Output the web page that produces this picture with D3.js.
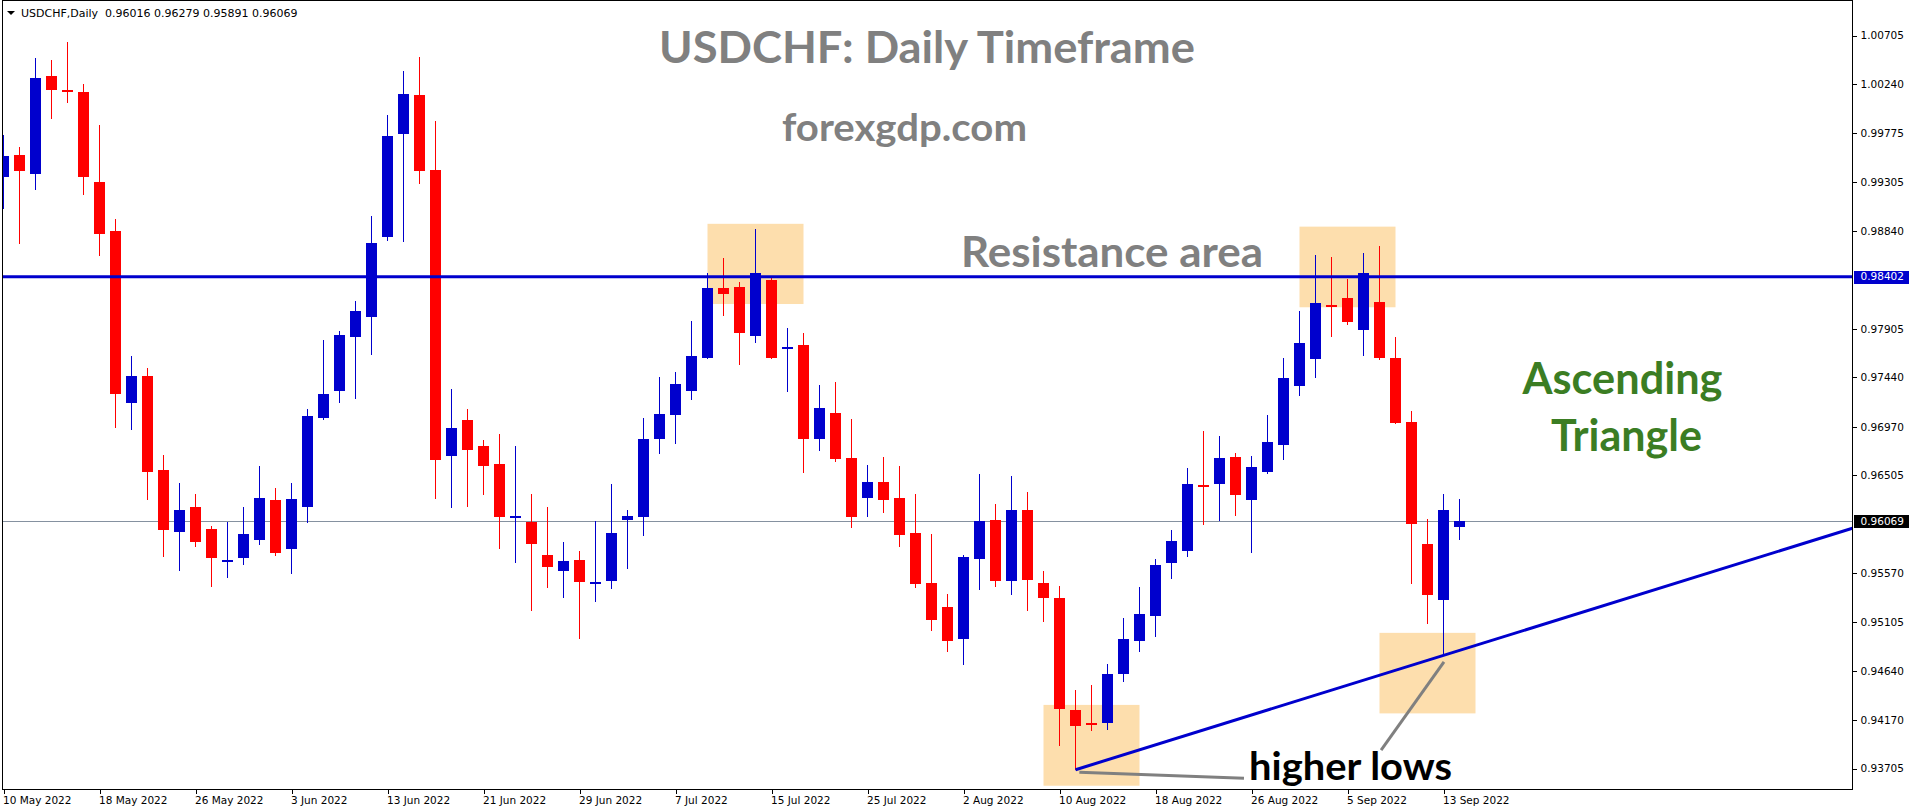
<!DOCTYPE html>
<html><head><meta charset="utf-8">
<script src="https://cdn.jsdelivr.net/npm/d3@7"></script>
<style>body{margin:0;background:#fff;overflow:hidden}svg{display:block}</style>
</head><body><svg id="c" width="1916" height="812"></svg>
<script>
// ---- data ----
const dates = [
 "2022-05-10","2022-05-11","2022-05-12","2022-05-13","2022-05-16","2022-05-17","2022-05-18","2022-05-19","2022-05-20","2022-05-23","2022-05-24","2022-05-25","2022-05-26","2022-05-27","2022-05-30","2022-05-31",
 "2022-06-01","2022-06-02","2022-06-03","2022-06-06","2022-06-07","2022-06-08","2022-06-09","2022-06-10","2022-06-13","2022-06-14","2022-06-15","2022-06-16","2022-06-17","2022-06-20","2022-06-21","2022-06-22","2022-06-23","2022-06-24","2022-06-27","2022-06-28","2022-06-29","2022-06-30",
 "2022-07-01","2022-07-04","2022-07-05","2022-07-06","2022-07-07","2022-07-08","2022-07-11","2022-07-12","2022-07-13","2022-07-14","2022-07-15","2022-07-18","2022-07-19","2022-07-20","2022-07-21","2022-07-22","2022-07-25","2022-07-26","2022-07-27","2022-07-28","2022-07-29",
 "2022-08-01","2022-08-02","2022-08-03","2022-08-04","2022-08-05","2022-08-08","2022-08-09","2022-08-10","2022-08-11","2022-08-12","2022-08-15","2022-08-16","2022-08-17","2022-08-18","2022-08-19","2022-08-22","2022-08-23","2022-08-24","2022-08-25","2022-08-26","2022-08-29","2022-08-30","2022-08-31",
 "2022-09-01","2022-09-02","2022-09-05","2022-09-06","2022-09-07","2022-09-08","2022-09-09","2022-09-12","2022-09-13","2022-09-14"];

const open = [0.99357,0.99565,0.99386,1.00316,1.00180,1.00166,0.99306,0.98839,0.97195,0.97458,
 0.96554,0.95967,0.96200,0.95992,0.95688,0.95712,0.95883,0.96269,0.95806,0.96204,
 0.97053,0.97312,0.97826,0.98016,0.98777,0.99769,1.00137,0.99423,0.96692,0.97031,
 0.96783,0.96614,0.96110,0.96061,0.95749,0.95591,0.95698,0.95480,0.95493,0.96077,
 0.96105,0.96855,0.97084,0.97312,0.97628,0.98291,0.98299,0.97837,0.98366,0.97720,
 0.97747,0.96855,0.97099,0.96673,0.96286,0.96438,0.96291,0.95952,0.95477,0.95247,
 0.94946,0.95707,0.96077,0.95500,0.96171,0.95477,0.95334,0.94267,0.94145,0.94143,
 0.94610,0.94919,0.95164,0.95669,0.95786,0.96415,0.96423,0.96676,0.96272,0.96536,
 0.96796,0.97358,0.97614,0.98130,0.98195,0.97892,0.98165,0.97629,0.97013,0.95850,
 0.95311,0.96016];
const high = [0.99751,0.99641,1.00487,1.00469,1.00640,1.00239,0.99849,0.98956,0.97640,0.97527,
 0.96696,0.96430,0.96324,0.96022,0.96058,0.96200,0.96594,0.96382,0.96430,0.97137,
 0.97793,0.97888,0.98172,0.98985,0.99944,1.00363,1.00498,0.99889,0.97327,0.97137,
 0.96843,0.96898,0.96783,0.96330,0.96203,0.95872,0.95785,0.96065,0.96424,0.96176,
 0.97052,0.97443,0.97490,0.97976,0.98434,0.98584,0.98347,0.98860,0.98390,0.97909,
 0.97869,0.97368,0.97395,0.97044,0.96606,0.96676,0.96593,0.96325,0.95945,0.95372,
 0.95745,0.96514,0.96227,0.96495,0.96344,0.95590,0.95447,0.94456,0.94505,0.94705,
 0.95142,0.95440,0.95711,0.95982,0.96578,0.96925,0.96876,0.96717,0.96687,0.97079,
 0.97622,0.98070,0.98613,0.98594,0.98376,0.98624,0.98697,0.97822,0.97115,0.96087,
 0.96324,0.96279];
const low = [0.99044,0.98712,0.99233,0.99911,1.00064,0.99178,0.98595,0.96955,0.96937,0.96273,
 0.95730,0.95588,0.95825,0.95442,0.95529,0.95653,0.95836,0.95737,0.95559,0.96054,
 0.97035,0.97195,0.97235,0.97655,0.98741,0.98730,0.99291,0.96280,0.96197,0.96204,
 0.96314,0.95801,0.95666,0.95208,0.95429,0.95331,0.94940,0.95295,0.95418,0.95607,
 0.95923,0.96712,0.96807,0.97226,0.97620,0.98031,0.97561,0.97766,0.97620,0.97305,
 0.96531,0.96740,0.96637,0.95998,0.96112,0.96144,0.95824,0.95432,0.95014,0.94814,
 0.94690,0.95413,0.95436,0.95364,0.95213,0.95100,0.93924,0.93694,0.94060,0.94071,
 0.94531,0.94821,0.94961,0.95519,0.95730,0.96028,0.96069,0.96118,0.95767,0.96517,
 0.96653,0.97264,0.97433,0.97825,0.97938,0.97644,0.97607,0.97000,0.95464,0.95081,
 0.94786,0.95891];
const close = [0.99550,0.99408,1.00298,1.00188,1.00165,0.99350,0.98807,0.97283,0.97451,0.96539,
 0.95981,0.96175,0.95872,0.95712,0.95698,0.95945,0.96288,0.95759,0.96277,0.97068,
 0.97279,0.97841,0.98070,0.98726,0.99747,1.00144,0.99408,0.96652,0.96955,0.96747,
 0.96598,0.96105,0.96120,0.95848,0.95627,0.95690,0.95485,0.95490,0.95958,0.96120,
 0.96851,0.97091,0.97376,0.97644,0.98291,0.98236,0.97865,0.98434,0.97628,0.97735,
 0.96855,0.97147,0.96657,0.96105,0.96444,0.96272,0.95937,0.95470,0.95119,0.94927,
 0.95726,0.96069,0.95500,0.96171,0.95507,0.95338,0.94271,0.94113,0.94130,0.94610,
 0.94942,0.95179,0.95647,0.95877,0.96419,0.96400,0.96668,0.96314,0.96582,0.96823,
 0.97430,0.97765,0.98153,0.98115,0.97972,0.98442,0.97622,0.97006,0.96043,0.95365,
 0.96175,0.96069];

const dateTickLabels = ["10 May 2022","18 May 2022","26 May 2022","3 Jun 2022","13 Jun 2022","21 Jun 2022",
 "29 Jun 2022","7 Jul 2022","15 Jul 2022","25 Jul 2022","2 Aug 2022","10 Aug 2022","18 Aug 2022",
 "26 Aug 2022","5 Sep 2022","13 Sep 2022"];
const priceTicks = [1.00705,1.00240,0.99775,0.99305,0.98840,0.97905,0.97440,0.96970,0.96505,
 0.95570,0.95105,0.94640,0.94170,0.93705];
const resistanceLevel = 0.98402;
const trendAnchors = [67, 90];           // bars whose lows define the rising trendline
const boxes = [ // [bar from, bar to, price top, price bottom]
 [44, 50, 0.98907, 0.98141],
 [81, 87, 0.98880, 0.98110],
 [86, 92, 0.95001, 0.94232],
 [65, 71, 0.94313, 0.93541]];
const pointers = [ // grey annotation lines [bar, price] -> [bar, price]
 [[67.24, 0.93669], [77.53, 0.93612]],
 [[90.03, 0.94723], [86.1, 0.93882]]];

// ---- layout ----
const W = 1916, H = 812;
const L = 2.5, R = 1852.5, T = 0.5, B = 789.5;
const svg = d3.select("#c");
svg.append("rect").attr("width", W).attr("height", H).attr("fill", "#fff");

const x = d3.scaleLinear().domain([0, 91]).range([3.5, 3.5 + 16 * 91]);
const y = d3.scaleLinear().domain([0.93510, 1.01025]).range([789, 2]);
const parse = d3.timeParse("%Y-%m-%d"), fmt = d3.timeFormat("%-d %b %Y");
const bars = dates.map((d, i) => ({i, label: fmt(parse(d)), o: open[i], h: high[i], l: low[i], c: close[i]}));

svg.append("defs").append("clipPath").attr("id", "clip")
  .append("rect").attr("x", L + 0.5).attr("y", T + 0.5).attr("width", R - L - 1).attr("height", B - T - 1);
const plot = svg.append("g").attr("clip-path", "url(#clip)");

// annotation boxes (background)
plot.append("g").selectAll("rect").data(boxes).join("rect")
  .attr("x", d => x(d[0])).attr("width", d => x(d[1]) - x(d[0]))
  .attr("y", d => y(d[2])).attr("height", d => y(d[3]) - y(d[2]))
  .attr("fill", "#FDDEAD");

// bid line
const bid = close[close.length - 1];
plot.append("line").attr("x1", L).attr("x2", R)
  .attr("y1", Math.round(y(bid)) + 0.5).attr("y2", Math.round(y(bid)) + 0.5)
  .attr("stroke", "#8591a0").attr("stroke-width", 1);

// candles
const UP = "#0000CD", DN = "#FF0000";
const cg = plot.append("g").attr("shape-rendering", "crispEdges");
const cand = cg.selectAll("g").data(bars).join("g");
cand.append("rect")
  .attr("x", d => x(d.i) - 0.5).attr("width", 1)
  .attr("y", d => Math.round(y(d.h))).attr("height", d => Math.max(1, Math.round(y(d.l)) - Math.round(y(d.h))))
  .attr("fill", d => d.c >= d.o ? UP : DN);
cand.append("rect")
  .attr("x", d => x(d.i) - 5.5).attr("width", 11)
  .attr("y", d => { const t = Math.round(y(Math.max(d.o, d.c))), b = Math.round(y(Math.min(d.o, d.c))); return b - t < 2 ? Math.round((t + b) / 2) - 1 : t; })
  .attr("height", d => Math.max(2, Math.round(y(Math.min(d.o, d.c))) - Math.round(y(Math.max(d.o, d.c)))))
  .attr("fill", d => d.c >= d.o ? UP : DN);

// resistance line
plot.append("line").attr("x1", L).attr("x2", R)
  .attr("y1", y(resistanceLevel)).attr("y2", y(resistanceLevel))
  .attr("stroke", UP).attr("stroke-width", 3);

// trendline through two lows, extended to right edge
const [a0, a1] = trendAnchors;
const slope = (low[a1] - low[a0]) / (a1 - a0);
const iEnd = x.invert(R);
plot.append("line")
  .attr("x1", x(a0)).attr("y1", y(low[a0]))
  .attr("x2", x(iEnd)).attr("y2", y(low[a0] + slope * (iEnd - a0)))
  .attr("stroke", UP).attr("stroke-width", 3);

// grey pointer lines
plot.append("g").selectAll("line").data(pointers).join("line")
  .attr("x1", d => x(d[0][0])).attr("y1", d => y(d[0][1]))
  .attr("x2", d => x(d[1][0])).attr("y2", d => y(d[1][1]))
  .attr("stroke", "#808080").attr("stroke-width", 3);

// text annotations
const ann = [
  {t: "USDCHF: Daily Timeframe", x: 659, y: 63, s: 44, w: 536, c: "#808080"},
  {t: "forexgdp.com", x: 782, y: 141, s: 38, w: 245, c: "#808080"},
  {t: "Resistance area", x: 961, y: 266.5, s: 42, w: 302, c: "#808080"},
  {t: "Ascending", x: 1522.5, y: 394, s: 43, w: 200, c: "#3b7d23"},
  {t: "Triangle", x: 1551, y: 450.5, s: 43, w: 151, c: "#3b7d23"},
  {t: "higher lows", x: 1249, y: 779.5, s: 39, w: 203, c: "#000"}];
svg.append("g").selectAll("text").data(ann).join("text")
  .attr("x", d => d.x).attr("y", d => d.y).text(d => d.t)
  .attr("font-family", "Lato, 'Open Sans', sans-serif").attr("font-weight", 700)
  .attr("font-size", d => d.s).attr("fill", d => d.c)
  .attr("textLength", d => d.w).attr("lengthAdjust", "spacingAndGlyphs");

// frame
svg.append("rect").attr("x", L).attr("y", T).attr("width", R - L).attr("height", B - T)
  .attr("fill", "none").attr("stroke", "#000").attr("stroke-width", 1).attr("shape-rendering", "crispEdges");

// right price axis
const ax = svg.append("g").attr("font-family", "'DejaVu Sans', sans-serif").attr("font-size", 10.5);
const yAxis = d3.axisRight(y).tickValues(priceTicks).tickSize(4).tickPadding(4).tickFormat(d3.format(".5f"));
const yg = ax.append("g").attr("transform", `translate(${R},0)`).call(yAxis);
yg.select(".domain").remove();
yg.selectAll(".tick line").attr("stroke", "#000").attr("shape-rendering", "crispEdges");
yg.selectAll(".tick text").attr("fill", "#000").attr("font-family", "'DejaVu Sans', sans-serif").attr("font-size", 10.5);

const tags = [{p: resistanceLevel, bg: UP}, {p: bid, bg: "#000"}];
const tg = ax.append("g").selectAll("g").data(tags).join("g");
tg.append("rect").attr("x", R + 1.5).attr("width", 55).attr("y", d => Math.round(y(d.p)) - 6).attr("height", 13)
  .attr("fill", d => d.bg);
tg.append("text").attr("x", R + 8).attr("y", d => y(d.p)).attr("dy", "0.35em")
  .attr("fill", "#fff").text(d => d3.format(".5f")(d.p));

// bottom date axis
const tickBars = bars.filter(b => dateTickLabels.includes(b.label));
const xAxis = d3.axisBottom(x).tickValues(tickBars.map(b => b.i)).tickSize(4).tickPadding(3)
  .tickFormat(i => bars[i].label);
const xg = ax.append("g").attr("transform", `translate(0,${B})`).call(xAxis);
xg.select(".domain").remove();
xg.selectAll(".tick line").attr("stroke", "#000").attr("shape-rendering", "crispEdges");
xg.selectAll(".tick text").attr("text-anchor", "start").attr("dx", -1).attr("fill", "#000")
  .attr("font-family", "'DejaVu Sans', sans-serif").attr("font-size", 10.5);

// header
svg.append("path").attr("d", "M7,11 L15,11 L11,15 Z").attr("fill", "#000");
svg.append("text").attr("x", 21).attr("y", 16.5)
  .attr("font-family", "'DejaVu Sans', sans-serif").attr("font-size", 11).attr("fill", "#000")
  .attr("xml:space", "preserve").style("white-space", "pre")
  .text(`USDCHF,Daily  ${[open, high, low, close].map(a => a[a.length - 1].toFixed(5)).join(" ")}`);
</script></body></html>
